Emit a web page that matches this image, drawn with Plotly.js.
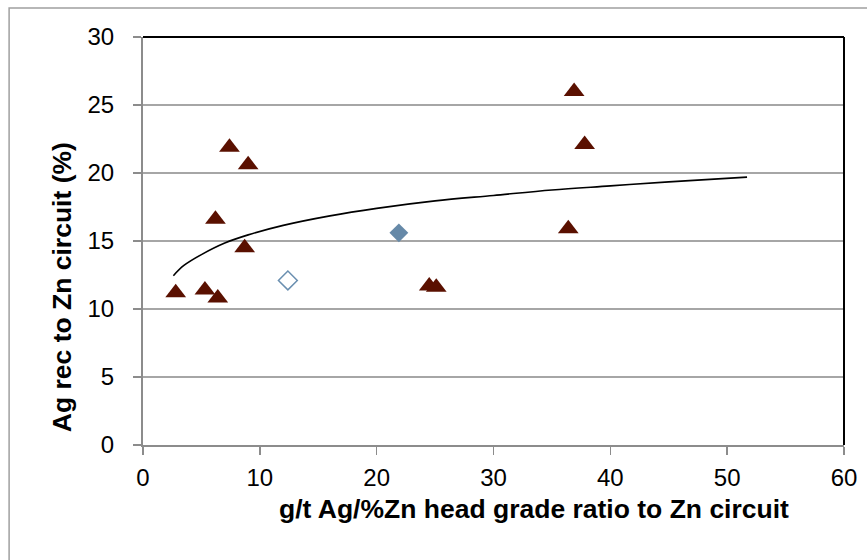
<!DOCTYPE html>
<html>
<head>
<meta charset="utf-8">
<script src="https://cdn.plot.ly/plotly-3.0.1.min.js"></script>
<style>html,body{margin:0;padding:0;background:#fff;}#chart{width:867px;height:560px;}</style>
</head>
<body>
<div id="chart"></div>
<script>
// Triangle series (dark red)
const triX = [2.8, 5.3, 6.4, 6.2, 7.4, 8.7, 9.0, 24.5, 25.1, 36.9, 37.8, 36.4];
const triY = [11.2, 11.4, 10.8, 16.6, 21.9, 14.5, 20.6, 11.7, 11.6, 26.0, 22.1, 15.9];
// Filled diamond
const diaX = [21.9];
const diaY = [15.6];
// Open diamond
const openX = [12.4];
const openY = [12.1];
// Trend curve
const trendX = [2.6, 3.5, 5, 7, 9, 12, 16, 20, 25, 30, 35, 40, 45, 51.7];
const trendY = [12.45, 13.2, 14.0, 14.85, 15.45, 16.15, 16.85, 17.4, 17.95, 18.35, 18.75, 19.05, 19.35, 19.7];

const xTicks = [0, 10, 20, 30, 40, 50, 60];
const yTicks = [0, 5, 10, 15, 20, 25, 30];
const xTitle = 'g/t Ag/%Zn head grade ratio to Zn circuit';
const yTitle = 'Ag rec to Zn circuit (%)';

const font = 'Liberation Sans, Arial, sans-serif';

const traces = [
  {x: trendX, y: trendY, mode: 'lines', type: 'scatter', line: {color: '#000', width: 1.6, shape: 'spline'}, hoverinfo: 'skip'},
  {x: triX, y: triY, mode: 'markers', type: 'scatter', marker: {symbol: 'triangle-up', size: 18, color: '#5a1000'}},
  {x: diaX, y: diaY, mode: 'markers', type: 'scatter', marker: {symbol: 'diamond', size: 14.5, color: '#6689a8'}},
  {x: openX, y: openY, mode: 'markers', type: 'scatter', marker: {symbol: 'diamond-open', size: 14.5, color: '#6a8fb0', line: {width: 1.5, color: '#6a8fb0'}}}
];

const layout = {
  width: 867, height: 560,
  margin: {l: 143, r: 23, t: 37, b: 114.5},
  paper_bgcolor: '#fff', plot_bgcolor: '#fff',
  showlegend: false,
  font: {family: font, color: '#000'},
  xaxis: {
    range: [0, 60], tickvals: xTicks, ticktext: xTicks.map(String),
    showgrid: false, zeroline: false,
    showline: true, linecolor: '#8c8c8c', linewidth: 2,
    ticks: 'outside', ticklen: 8, tickcolor: '#8c8c8c', tickwidth: 1.5,
    ticklabelstandoff: 2,
    tickfont: {size: 24, family: font, color: '#000'}
  },
  yaxis: {
    range: [0, 30], tickvals: yTicks, ticktext: yTicks.map(String),
    showgrid: true, gridcolor: '#a6a6a6', gridwidth: 1.5, zeroline: false,
    showline: true, linecolor: '#8c8c8c', linewidth: 2,
    ticks: 'outside', ticklen: 8, tickcolor: '#8c8c8c', tickwidth: 1.5,
    ticklabelstandoff: 14,
    tickfont: {size: 24, family: font, color: '#000'}
  },
  annotations: [
    {text: '<b>' + xTitle + '</b>', xref: 'paper', yref: 'paper', x: (534 - 143) / 701, y: -(510 - 445.5) / 408.5,
     xanchor: 'center', yanchor: 'middle', showarrow: false, font: {size: 26.5, family: font, color: '#000'}},
    {text: '<b>' + yTitle + '</b>', xref: 'paper', yref: 'paper', x: -(143 - 62) / 701, y: (445.5 - 287.5) / 408.5,
     xanchor: 'center', yanchor: 'middle', textangle: -90, showarrow: false, font: {size: 26.5, family: font, color: '#000'}}
  ],
  shapes: [
    {type: 'line', xref: 'paper', yref: 'paper', x0: 0, x1: 1, y0: 1, y1: 1, line: {color: '#000', width: 2}},
    {type: 'line', xref: 'paper', yref: 'paper', x0: 1, x1: 1, y0: 0, y1: 1, line: {color: '#000', width: 2}},
    {type: 'rect', xref: 'paper', yref: 'paper', x0: -0.191, x1: 1.2, y0: -0.5, y1: 1.071, line: {color: '#a0a0a0', width: 1.5}, fillcolor: 'rgba(0,0,0,0)', layer: 'below'}
  ]
};

Plotly.newPlot('chart', traces, layout, {displayModeBar: false, staticPlot: true});
</script>
</body>
</html>
